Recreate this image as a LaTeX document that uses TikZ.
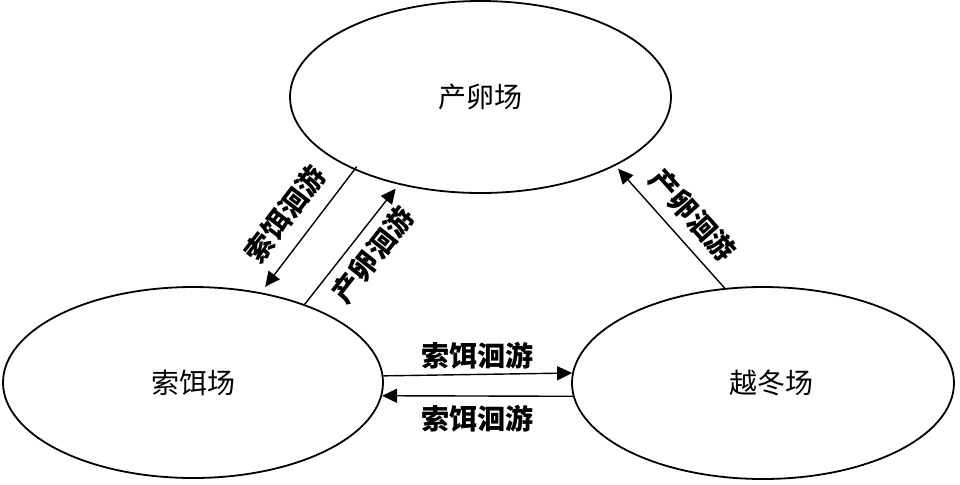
\documentclass[tikz,border=0pt]{standalone}
\usepackage{fontspec}
\newfontfamily\cjk{Noto Sans CJK SC}
\usetikzlibrary{shapes.geometric,arrows.meta}
\begin{document}
\begin{tikzpicture}[x=.5pt, y=-.5pt, every node/.style={font=\cjk\fontsize{14}{16}\selectfont},
  ground/.style={ellipse, draw, line width=.9pt, inner sep=0pt},
  route/.style={line width=.7pt, -{Triangle[length=7.5pt,width=7pt]}},
  tag/.style={font=\cjk\bfseries\fontsize{14}{16}\selectfont, inner sep=1pt}]
  \useasboundingbox (0,0) rectangle (960,484);
  \node[ground, minimum width=190.5pt, minimum height=96pt] (spawn) at (480.5,97) {产卵场};
  \node[ground, minimum width=190pt, minimum height=95.5pt] (feed) at (193,382.5) {索饵场\hspace{9pt}};
  \node[ground, minimum width=191pt, minimum height=96pt] (winter) at (763,383) {\hspace{8pt}越冬场};
  \draw[route, shorten >=3.5pt, shorten <=-2pt] (spawn.210.6) -- node[tag, sloped, above=6pt] {索饵洄游} (feed.53.8);
  \draw[route, shorten >=2.5pt] (feed.35.4) -- node[tag, sloped, below=3.5pt, pos=.53] {产卵洄游} (spawn.227.5);
  \draw[route, shorten >=2pt] (winter.112.6) -- node[tag, sloped, above=4.4pt, pos=.46] {产卵洄游} (spawn.333);
  \draw[route] (feed.2.9) -- node[tag, above=1pt] {索饵洄游} (winter.177);
  \draw[route] (winter.184.5) -- node[tag, below=3pt] {索饵洄游} (feed.-4.7);
\end{tikzpicture}
\end{document}
